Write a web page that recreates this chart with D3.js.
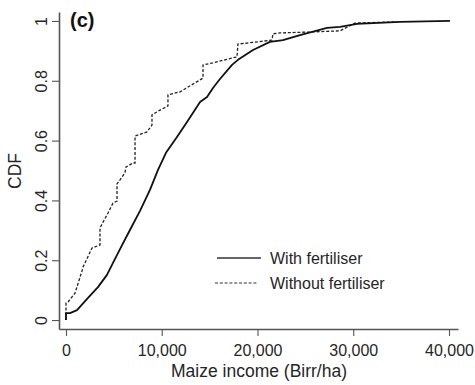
<!DOCTYPE html>
<html>
<head>
<meta charset="utf-8">
<script src="https://cdn.jsdelivr.net/npm/d3@7"></script>
<style>
  html, body { margin: 0; padding: 0; background: #fff; }
  svg { display: block; font-family: "Liberation Sans", Arial, sans-serif; }
</style>
</head>
<body>
<svg id="chart" width="475" height="385"></svg>
<script>
// ---- data ----
const withIncome = [0, 0, 420, 1150, 2300, 3340, 4280, 4910, 5640, 6680, 7730, 8770, 9610, 10440, 11590, 12640, 14000, 14730, 15350, 16080, 17340, 17960, 19530, 21300, 22660, 24440, 27260, 28620, 30390, 34880, 40100];
const withCdf    = [0, 0.023, 0.023, 0.033, 0.074, 0.110, 0.151, 0.191, 0.237, 0.301, 0.365, 0.435, 0.502, 0.559, 0.612, 0.662, 0.729, 0.746, 0.776, 0.806, 0.853, 0.870, 0.903, 0.930, 0.936, 0.953, 0.977, 0.980, 0.990, 0.997, 1.0];

const withoutIncome = [0, 0, 210, 940, 1670, 1780, 2720, 3550, 3550, 4390, 4910, 5330, 5330, 6160, 6270, 7000, 7210, 7210, 8460, 8980, 8980, 9820, 10650, 10650, 11910, 14310, 14310, 15350, 17860, 17960, 18900, 21510, 21620, 22350, 25480, 28620, 30180, 34570];
const withoutCdf    = [0, 0.057, 0.060, 0.090, 0.164, 0.177, 0.241, 0.251, 0.308, 0.358, 0.391, 0.398, 0.455, 0.492, 0.512, 0.525, 0.525, 0.615, 0.629, 0.652, 0.686, 0.702, 0.716, 0.753, 0.763, 0.809, 0.853, 0.860, 0.880, 0.923, 0.926, 0.936, 0.957, 0.960, 0.963, 0.967, 0.993, 0.997];

const xTicks = [0, 10000, 20000, 30000, 40000];
const yTicks = [0, 0.2, 0.4, 0.6, 0.8, 1];
const seriesNames = ["With fertiliser", "Without fertiliser"];
const panelLabel = "(c)";
const xTitle = "Maize income (Birr/ha)";
const yTitle = "CDF";

// ---- drawing ----
const svg = d3.select("#chart");
const textColor = "#262626";
const axisColor = "#555";

const x = d3.scaleLinear().domain([-730, 40940]).range([59, 458]);
const y = d3.scaleLinear().domain([-0.03, 1.03]).range([329, 12]);

// axes
const xAxis = svg.append("g")
  .attr("transform", `translate(0,${y.range()[0]})`)
  .call(d3.axisBottom(x).tickValues(xTicks).tickFormat(d3.format(",")).tickSizeInner(7).tickSizeOuter(0));
xAxis.selectAll("text").attr("y", 27).attr("dy", 0).attr("font-size", 16).attr("fill", textColor).style("font-family", "Liberation Sans, Arial, sans-serif");

const yAxis = svg.append("g")
  .attr("transform", `translate(${x.range()[0]},0)`)
  .call(d3.axisLeft(y).tickValues(yTicks).tickFormat(d => d === 0 || d === 1 ? String(d) : d3.format(".1f")(d)).tickSizeInner(7).tickSizeOuter(0));
yAxis.selectAll("text")
  .attr("transform", "rotate(-90)")
  .attr("x", 0).attr("y", -12).attr("dy", 0)
  .attr("text-anchor", "middle")
  .attr("font-size", 16).attr("fill", textColor).style("font-family", "Liberation Sans, Arial, sans-serif");

[xAxis, yAxis].forEach(g => {
  g.select(".domain").attr("stroke", axisColor).attr("stroke-width", 1.6);
  g.selectAll(".tick line").attr("stroke", axisColor).attr("stroke-width", 1.1);
});

// curves
const line = d3.line().x(d => x(d[0])).y(d => y(d[1]));
const withPts = withIncome.map((v, i) => [v, withCdf[i]]);
const withoutPts = withoutIncome.map((v, i) => [v, withoutCdf[i]]);

svg.append("path").datum(withoutPts)
  .attr("d", line).attr("fill", "none").attr("stroke", "#222")
  .attr("stroke-width", 1.3).attr("stroke-dasharray", "3,1.8");
svg.append("path").datum(withPts)
  .attr("d", line).attr("fill", "none").attr("stroke", "#111")
  .attr("stroke-width", 1.8).attr("stroke-linejoin", "round");

// titles
svg.append("text").attr("x", 259).attr("y", 377).attr("text-anchor", "middle")
  .attr("font-size", 17.5).attr("fill", textColor).text(xTitle);
svg.append("text").attr("transform", "translate(21,171) rotate(-90)").attr("text-anchor", "middle")
  .attr("font-size", 17.5).attr("fill", textColor).text(yTitle);
svg.append("text").attr("x", 70).attr("y", 27).attr("font-size", 20).attr("font-weight", "bold")
  .attr("fill", "#111").text(panelLabel);

// legend
const legend = svg.append("g");
const legendRows = [
  { name: seriesNames[0], y: 258, ty: 264, x1: 217, x2: 261, dash: null, w: 1.3 },
  { name: seriesNames[1], y: 283, ty: 289, x1: 215, x2: 257, dash: "3,1.8", w: 1.1 }
];
legendRows.forEach(r => {
  legend.append("line").attr("x1", r.x1).attr("x2", r.x2).attr("y1", r.y).attr("y2", r.y)
    .attr("stroke", "#333").attr("stroke-width", r.w).attr("stroke-dasharray", r.dash);
  legend.append("text").attr("x", 270).attr("y", r.ty).attr("font-size", 16)
    .attr("fill", textColor).text(r.name);
});
</script>
</body>
</html>
